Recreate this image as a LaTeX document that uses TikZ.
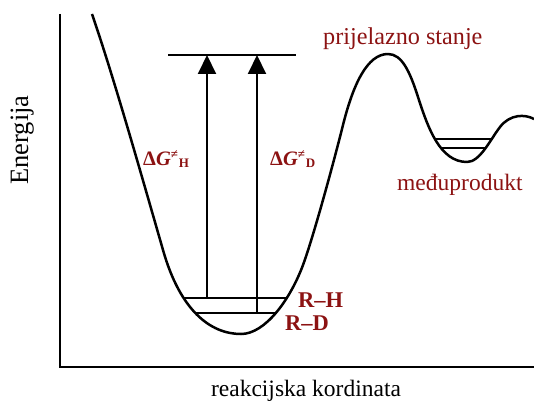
\documentclass[tikz,border=0pt]{standalone}
\usepackage{fontspec}
\setmainfont{Liberation Serif}
\usetikzlibrary{arrows.meta}
\definecolor{labred}{RGB}{140,18,18}
\newcommand{\profilepath}{(92,14) .. controls (113,75) and (140,170) .. (163,250)
    .. controls (180,310) and (210,334) .. (241,334)
    .. controls (265,334) and (290,300) .. (303,265)
    .. controls (313,238) and (333,165) .. (343,125)
    .. controls (353,85) and (367,54) .. (388,54)
    .. controls (402,54) and (410,72) .. (418,97)
    .. controls (428,128) and (440,162) .. (467,162)
    .. controls (480,162) and (490,140) .. (500,127)
    .. controls (510,114) and (525,114) .. (534,119)}

\begin{document}
\begin{tikzpicture}[x=1pt, y=-1pt,
    axs/.style={line width=2.4pt},
    crv/.style={line width=2.5pt, line join=round},
    lvl/.style={line width=2pt},
    arr/.style={-{Triangle[length=19pt,width=18pt]}, line width=2pt},
    lbl/.style={text=labred, font=\fontsize{23.5}{28}\selectfont, inner sep=0pt, anchor=base west},
    rlbl/.style={lbl, font=\fontsize{22.5}{27}\selectfont\bfseries},
    dglbl/.style={lbl, font=\fontsize{20.5}{24}\selectfont\bfseries},
    axl/.style={font=\fontsize{23.5}{28}\selectfont, inner sep=0pt, anchor=base}
]
\useasboundingbox (0,0) rectangle (534,401);

% axes
\coordinate (ytop) at (60,14);
\coordinate (xend) at (534,367);
\draw[axs] (ytop) |- (xend);
\node[axl, font=\fontsize{26.5}{30}\selectfont, rotate=90] (ylab) at (28,140) {Energija};
\node[axl] (xlab) at (306,396) {reakcijska kordinata};

% energy profile
\draw[crv] \profilepath;

% levels, cut off by the walls
\coordinate (rhL) at (150,298);
\coordinate (rhR) at (320,298);
\coordinate (rdL) at (150,313);
\coordinate (rdR) at (320,313);
\coordinate (imA) at (420,139);
\coordinate (imB) at (505,139);
\coordinate (imC) at (420,148);
\coordinate (imD) at (505,148);
\begin{scope}
\clip \profilepath -- (534,0) -- (92,0) -- cycle;
\draw[lvl] (rhL) -- (rhR);
\draw[lvl] (rdL) -- (rdR);
\draw[lvl] (imA) -- (imB);
\draw[lvl] (imC) -- (imD);
\end{scope}
\coordinate (tsL) at (168,55);
\coordinate (tsR) at (296,55);
\draw[lvl] (tsL) -- (tsR);

% activation arrows
\coordinate (hbot) at (207,298);
\coordinate (htop) at (207,55);
\coordinate (dbot) at (257,313);
\coordinate (dtop) at (257,55);
\draw[arr] (hbot) -- (htop);
\draw[arr] (dbot) -- (dtop);

% labels
\node[lbl, font=\fontsize{24.2}{28}\selectfont] (ts) at (323,45) {prijelazno stanje};
\node[lbl] (im) at (397,190) {međuprodukt};
\node[dglbl] (dgh) at (143,165) {Δ\textit{G}\raisebox{7pt}{\fontsize{13}{15}\selectfont ≠}\kern1pt\raisebox{-2pt}{\fontsize{13}{15}\selectfont H}};
\node[dglbl] (dgd) at (270,165) {Δ\textit{G}\raisebox{7pt}{\fontsize{13}{15}\selectfont ≠}\kern1pt\raisebox{-2pt}{\fontsize{13}{15}\selectfont D}};
\node[rlbl] (rh) at (298,307) {R–H};
\node[rlbl] (rd) at (285,330) {R–D};
\end{tikzpicture}
\end{document}
